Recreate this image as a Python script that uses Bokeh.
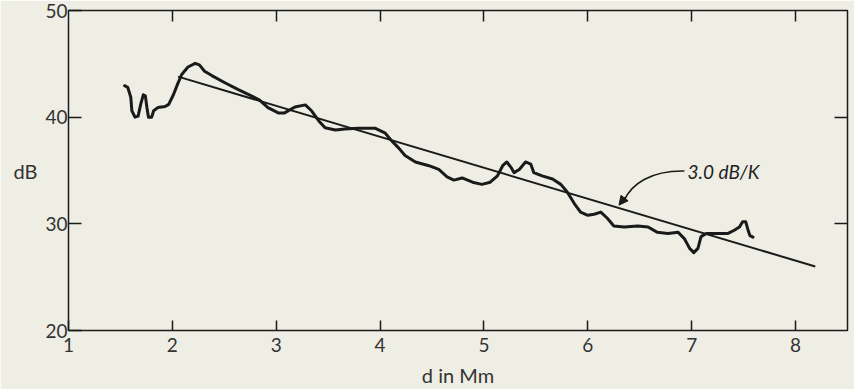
from bokeh.plotting import figure
from bokeh.models import LinearAxis, FixedTicker, Label, Arrow, NormalHead, Range1d
from bokeh.embed import file_html
from bokeh.resources import INLINE

# measured curve (d in Mm, dB)
curve_x = [1.54, 1.57, 1.60, 1.61, 1.64, 1.67, 1.695, 1.72, 1.74, 1.755, 1.77, 1.80, 1.82, 1.86,
           1.93, 1.965, 2.01, 2.05, 2.09, 2.15, 2.22, 2.26, 2.31, 2.38, 2.51, 2.63, 2.76, 2.84,
           2.92, 3.02, 3.08, 3.18, 3.28, 3.34, 3.41, 3.47, 3.57, 3.66, 3.79, 3.95, 4.05, 4.11,
           4.18, 4.24, 4.34, 4.47, 4.565, 4.645, 4.71, 4.79, 4.89, 4.98, 5.06, 5.13, 5.18, 5.22,
           5.26, 5.29, 5.34, 5.40, 5.45, 5.48, 5.56, 5.66, 5.74, 5.80, 5.87, 5.93, 6.00, 6.06,
           6.125, 6.19, 6.25, 6.35, 6.48, 6.58, 6.67, 6.77, 6.87, 6.93, 6.98, 7.02, 7.06, 7.09,
           7.14, 7.25, 7.35, 7.41, 7.46, 7.49, 7.52, 7.54, 7.56, 7.59]
curve_y = [42.95, 42.8, 41.85, 40.6, 40.0, 40.1, 41.2, 42.1, 42.0, 40.9, 40.0, 40.0, 40.6, 40.9,
           41.0, 41.2, 42.1, 43.1, 44.0, 44.7, 45.05, 44.9, 44.3, 43.9, 43.2, 42.6, 42.0, 41.6,
           40.9, 40.4, 40.4, 40.96, 41.15, 40.6, 39.65, 39.0, 38.8, 38.9, 38.97, 38.97, 38.5, 37.8,
           37.1, 36.4, 35.8, 35.45, 35.1, 34.4, 34.1, 34.3, 33.9, 33.7, 33.9, 34.5, 35.45, 35.8,
           35.3, 34.8, 35.1, 35.8, 35.6, 34.8, 34.5, 34.2, 33.7, 33.0, 31.9, 31.1, 30.8, 30.9,
           31.1, 30.5, 29.8, 29.7, 29.8, 29.7, 29.2, 29.1, 29.2, 28.6, 27.7, 27.3, 27.7, 28.8,
           29.1, 29.1, 29.1, 29.4, 29.7, 30.2, 30.2, 29.5, 28.9, 28.75]

# fitted straight line
fit_x = [2.055, 8.19]
fit_y = [43.8, 26.0]

x_ticks = [1, 2, 3, 4, 5, 6, 7, 8]
y_ticks = [20, 30, 40, 50]
x_label = "d in Mm"
y_label = "dB"
note_text = "3.0 dB/K"

BG = "#efeee4"
INK = "#1a1a1a"
TXT = "#333333"
FONT = "Lato"

p = figure(width=854, height=389, output_backend="svg", toolbar_location=None,
           x_range=Range1d(1, 8.5), y_range=Range1d(20, 50),
           min_border_left=68, min_border_right=7, min_border_top=10, min_border_bottom=56)
p.background_fill_color = BG
p.border_fill_color = BG
p.outline_line_color = INK
p.outline_line_width = 1.5
p.xgrid.visible = False
p.ygrid.visible = False

xa = p.xaxis[0]
xa.ticker = FixedTicker(ticks=x_ticks)
xa.major_tick_in = 10
xa.major_tick_out = 0
xa.minor_tick_line_color = None
xa.axis_line_color = None
xa.major_tick_line_color = INK
xa.major_tick_line_width = 1.5
xa.major_label_text_font = FONT
xa.major_label_text_font_size = "19px"
xa.major_label_text_color = TXT
xa.major_label_standoff = 7
xa.axis_label = x_label
xa.axis_label_text_font = FONT
xa.axis_label_text_font_size = "20px"
xa.axis_label_text_font_style = "normal"
xa.axis_label_text_color = TXT
xa.axis_label_standoff = 8

ya = p.yaxis[0]
ya.ticker = FixedTicker(ticks=y_ticks)
ya.major_tick_in = 13
ya.major_tick_out = 0
ya.minor_tick_line_color = None
ya.axis_line_color = None
ya.major_tick_line_color = INK
ya.major_tick_line_width = 1.5
ya.major_label_text_font = FONT
ya.major_label_text_font_size = "19px"
ya.major_label_text_color = TXT
ya.major_label_standoff = 1
ya.axis_label = y_label
ya.axis_label_orientation = "horizontal"
ya.axis_label_text_font = FONT
ya.axis_label_text_font_size = "20px"
ya.axis_label_text_font_style = "normal"
ya.axis_label_text_color = TXT
ya.axis_label_standoff = 5

top = LinearAxis(ticker=FixedTicker(ticks=x_ticks[1:]), major_tick_in=11, major_tick_out=0,
                 minor_tick_line_color=None, axis_line_color=None,
                 major_tick_line_color=INK, major_tick_line_width=1.5,
                 major_label_overrides={t: "" for t in x_ticks[1:]}, major_label_standoff=0)
p.add_layout(top, "above")
right = LinearAxis(ticker=FixedTicker(ticks=y_ticks[1:-1]), major_tick_in=13, major_tick_out=0,
                   minor_tick_line_color=None, axis_line_color=None,
                   major_tick_line_color=INK, major_tick_line_width=1.5,
                   major_label_overrides={t: "" for t in y_ticks[1:-1]}, major_label_standoff=0)
p.add_layout(right, "right")

p.line(fit_x, fit_y, line_color=INK, line_width=2)
p.line(curve_x, curve_y, line_color=INK, line_width=3, line_join="round", line_cap="round")

# annotation with curved arrow
p.bezier(x0=[6.93], y0=[34.95], x1=[6.35], y1=[32.2], cx0=[6.6], cy0=[35.0], cx1=[6.42], cy1=[33.7],
         line_color=INK, line_width=1.5)
p.add_layout(Arrow(end=NormalHead(size=9, fill_color=INK, line_color=INK),
                   x_start=6.36, y_start=32.5, x_end=6.30, y_end=31.75,
                   line_color=INK, line_width=1.5))
p.add_layout(Label(x=6.96, y=34.9, text=note_text, text_font=FONT, text_font_size="19px",
                   text_font_style="italic", text_baseline="middle", text_color="#222222"))

html = file_html(p, INLINE)
html = html.replace("<body>", '<body style="background:%s">' % BG, 1)
open("out.html", "w").write(html)
